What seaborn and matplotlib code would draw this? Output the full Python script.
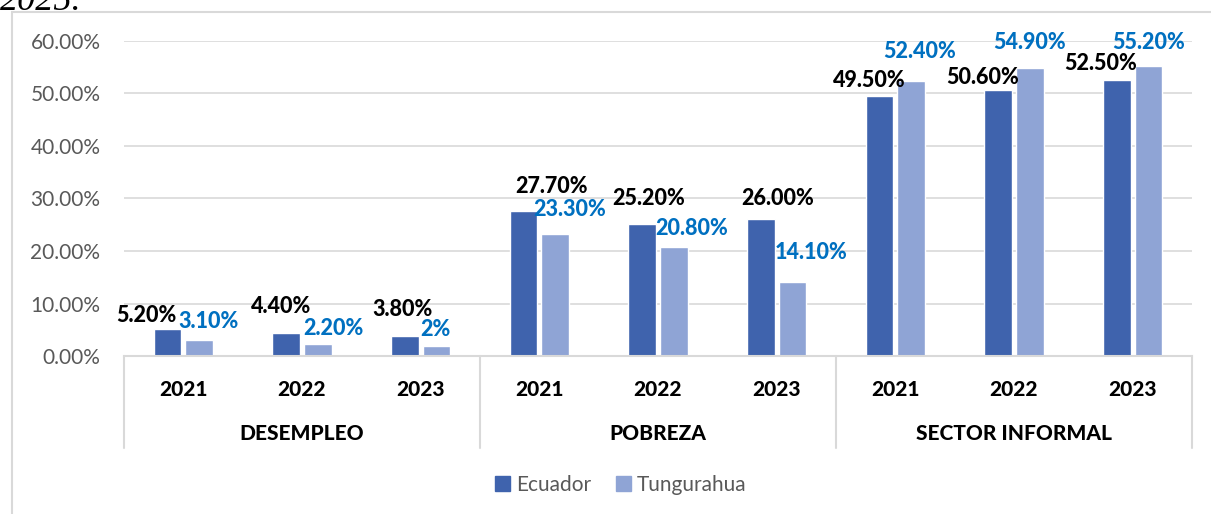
import pandas as pd
import numpy as np
import seaborn as sns
import matplotlib.pyplot as plt
from matplotlib.patches import Rectangle
from matplotlib.ticker import FuncFormatter

# datos
grupos = ["DESEMPLEO", "POBREZA", "SECTOR INFORMAL"]
anios = ["2021", "2022", "2023"]
ecuador = [5.2, 4.4, 3.8, 27.7, 25.2, 26.0, 49.5, 50.6, 52.5]
tungurahua = [3.1, 2.2, 2.0, 23.3, 20.8, 14.1, 52.4, 54.9, 55.2]
etq_ecuador = ["5.20%", "4.40%", "3.80%", "27.70%", "25.20%", "26.00%", "49.50%", "50.60%", "52.50%"]
etq_tungurahua = ["3.10%", "2.20%", "2%", "23.30%", "20.80%", "14.10%", "52.40%", "54.90%", "55.20%"]
y_ticks = [0, 10, 20, 30, 40, 50, 60]

# desplazamiento de las etiquetas (pixeles) tal como estan en la imagen
off_ec = [(-21, 13), (-5, 26), (-2, 27), (28, 24), (6, 25), (17, 21), (-10, 16), (-16, 13), (-16, 17)]
off_tu = [(9, 18), (16, 16), (-1, 16), (15, 24), (18, 18), (19, 29), (9, 29), (0, 25), (0, 24)]

cats = [g + " " + a for g in grupos for a in anios]
df = pd.DataFrame({
    "cat": cats * 2,
    "serie": ["Ecuador"] * len(cats) + ["Tungurahua"] * len(cats),
    "valor": ecuador + tungurahua,
})

sns.set_theme(style="white")
plt.rcParams["font.family"] = ["Lato", "DejaVu Sans"]

W, H = 1211, 514
fig = plt.figure(figsize=(W / 100, H / 100), dpi=100)
ax = fig.add_axes([124 / W, 1 - 356 / H, (1192 - 124) / W, (356 - 41) / H])

c_ec = "#3F63AD"
c_tu = "#8FA4D5"
sns.barplot(data=df, x="cat", y="valor", hue="serie", order=cats,
            hue_order=["Ecuador", "Tungurahua"], palette=[c_ec, c_tu],
            width=0.53, gap=0.12, ax=ax, legend=False, saturation=1)

ax.set_ylim(0, 60)
ax.set_xlim(-0.5, len(cats) - 0.5)
ax.set_yticks(y_ticks)
ax.yaxis.set_major_formatter(FuncFormatter(lambda v, p: f"{v:.2f}%"))
ax.tick_params(axis="y", length=0, pad=17, labelsize=15, labelcolor="#595959")
ax.tick_params(axis="x", length=0, pad=17)
ax.set_xticks(range(len(cats)))
ax.set_xticklabels(anios * len(grupos), fontsize=15, fontweight="black", color="black")
ax.set_xlabel("")
ax.set_ylabel("")
for y in y_ticks[1:]:
    ax.axhline(y, color="#D9D9D9", lw=1.2, zorder=0)
for s in ["left", "right", "top"]:
    ax.spines[s].set_visible(False)
ax.spines["bottom"].set_color("#D9D9D9")
ax.spines["bottom"].set_linewidth(1.5)

# lineas de la tabla de categorias
y_low = -(448 - 356) / (356 - 41)
trans = ax.get_xaxis_transform()
for xs in [-0.5, 2.5, 5.5, 8.5]:
    ax.plot([xs, xs], [0, y_low], color="#D9D9D9", lw=1.5, transform=trans, clip_on=False)
for i, g in enumerate(grupos):
    ax.text(i * 3 + 1, -(434 - 356) / (356 - 41), g, transform=trans, ha="center", va="center",
            fontsize=15, fontweight="black", color="black")

# etiquetas de datos
for cont, etq, offs, col in [(ax.containers[0], etq_ecuador, off_ec, "black"),
                              (ax.containers[1], etq_tungurahua, off_tu, "#0070C0")]:
    for bar, t, (dx, dy) in zip(cont, etq, offs):
        ax.annotate(t, (bar.get_x() + bar.get_width() / 2, bar.get_height()),
                    xytext=(dx, dy), textcoords="offset pixels", ha="center", va="center",
                    fontsize=15.5, fontweight="black", color=col, annotation_clip=False)

# leyenda
handles = [Rectangle((0, 0), 1, 1, color=c_ec), Rectangle((0, 0), 1, 1, color=c_tu)]
fig.legend(handles, ["Ecuador", "Tungurahua"], loc="center", bbox_to_anchor=(621 / W, 1 - 485 / H),
           ncol=2, frameon=False, fontsize=15, labelcolor="#595959", handlelength=0.7,
           handleheight=0.7, handletextpad=0.3, columnspacing=1.2)

# marco del grafico y resto del titulo (cortado arriba, como en la imagen)
fig.patches.append(Rectangle((12 / W, -0.1), 1.2, 1.1 - 12 / H, transform=fig.transFigure,
                             fill=False, edgecolor="#D9D9D9", lw=1.5))
fig.text(0.0, 1 - 10 / H, "2025.", family=["Liberation Serif", "DejaVu Serif"], style="italic",
         fontsize=26, va="baseline", ha="left", color="black")

fig.savefig("out.png", dpi=100)
